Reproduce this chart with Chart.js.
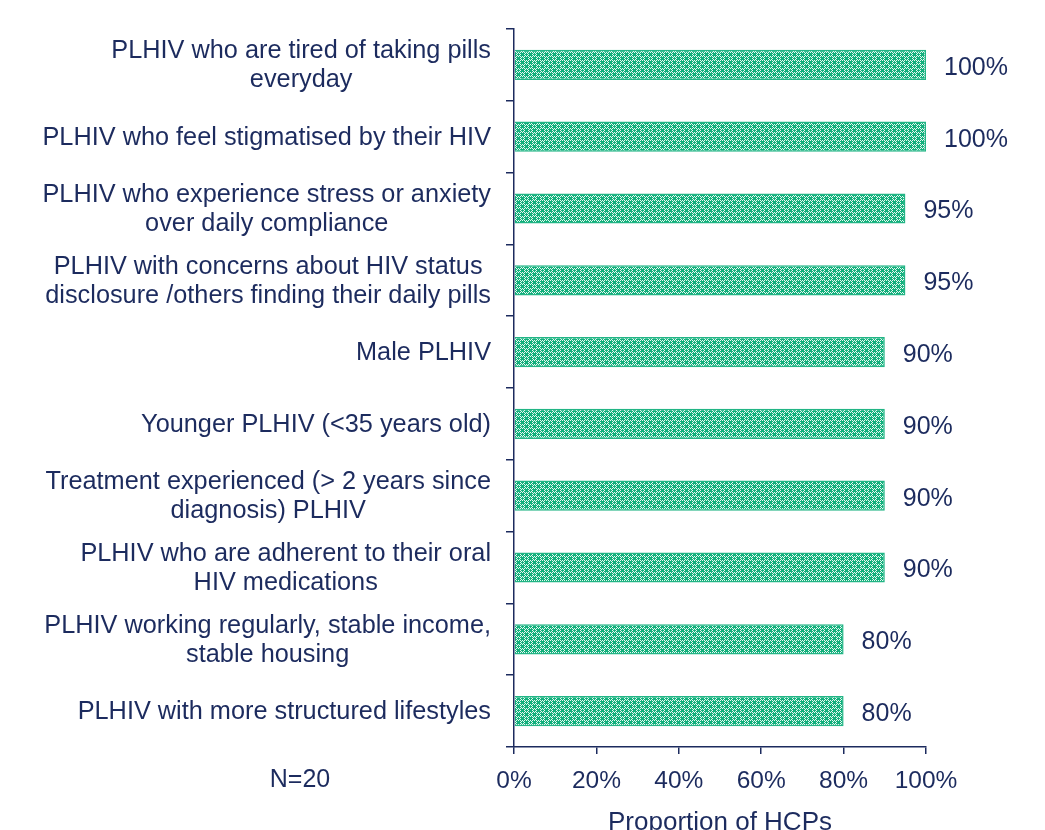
<!DOCTYPE html>
<html>
<head>
<meta charset="utf-8">
<script src="https://cdn.jsdelivr.net/npm/chart.js@4/dist/chart.umd.min.js"></script>
<style>
  html, body { margin: 0; padding: 0; background: #fff; }
  #wrap { width: 1045px; height: 830px; position: relative; }
</style>
</head>
<body>
<div id="wrap"><canvas id="chart"></canvas></div>
<script>
// data
const categories = [
  ["PLHIV who are tired of taking pills", "everyday"],
  ["PLHIV who feel stigmatised by their HIV"],
  ["PLHIV who experience stress or anxiety", "over daily compliance"],
  ["PLHIV with concerns about HIV status", "disclosure /others finding their daily pills"],
  ["Male PLHIV"],
  ["Younger PLHIV (<35 years old)"],
  ["Treatment experienced (> 2 years since", "diagnosis) PLHIV"],
  ["PLHIV who are adherent to their oral", "HIV medications"],
  ["PLHIV working regularly, stable income,", "stable housing"],
  ["PLHIV with more structured lifestyles"]
];
const values = [100, 100, 95, 95, 90, 90, 90, 90, 80, 80];
const xTicks = [0, 20, 40, 60, 80, 100];
const sampleNote = "N=20";
const axisTitle = "Proportion of HCPs";

const navy = "#1c2b5e";
const green = "#12b07c";
const FONT = "'Liberation Sans', Arial, sans-serif";

// dotted green fill like the original hatch
function makePattern() {
  const c = document.createElement("canvas");
  c.width = 8; c.height = 8;
  const g = c.getContext("2d");
  g.fillStyle = green;
  g.fillRect(0, 0, 8, 8);
  g.fillStyle = "#e6f7f0";
  const white = [
    [0,0],[2,0],[4,0],[6,0],[0,4],[2,4],[4,4],[6,4],
    [0,2],[0,6],[4,2],[4,6],
    [1,1],[3,3],[5,5],[7,7],[3,1],[1,3],[5,7],[7,5]
  ];
  white.forEach(([x, y]) => g.fillRect(x, y, 1, 1));
  return g.createPattern(c, "repeat");
}

// category labels: block right-aligned to the axis, lines centred in the block
const categoryLabels = {
  id: "categoryLabels",
  afterDraw(chart) {
    const ctx = chart.ctx;
    const y = chart.scales.y;
    const right = 491, lh = 29;
    ctx.save();
    ctx.font = "25.3px " + FONT;
    ctx.fillStyle = navy;
    ctx.textAlign = "center";
    ctx.textBaseline = "middle";
    categories.forEach((lines, i) => {
      const w = Math.max(...lines.map((t) => ctx.measureText(t).width));
      const cx = right - w / 2;
      const cy = y.getPixelForTick(i);
      const y0 = cy - (lines.length - 1) * lh / 2;
      lines.forEach((t, j) => ctx.fillText(t, cx, y0 + j * lh + 1));
    });
    ctx.restore();
  }
};

const valueLabels = {
  id: "valueLabels",
  afterDatasetsDraw(chart) {
    const ctx = chart.ctx;
    const meta = chart.getDatasetMeta(0);
    ctx.save();
    ctx.font = "25px " + FONT;
    ctx.fillStyle = navy;
    ctx.textBaseline = "middle";
    ctx.textAlign = "left";
    meta.data.forEach((bar, i) => {
      ctx.fillText(values[i] + "%", bar.x + 18, bar.y + 3);
    });
    // sample size note under the category labels
    ctx.textAlign = "center";
    ctx.fillText(sampleNote, 300, 780);
    ctx.restore();
  }
};

const canvas = document.getElementById("chart");
canvas.width = 1045; canvas.height = 830;

new Chart(canvas, {
  type: "bar",
  data: {
    labels: categories,
    datasets: [{
      data: values,
      backgroundColor: makePattern(),
      borderColor: "#22b585",
      borderWidth: 1.5,
      barPercentage: 0.42,
      categoryPercentage: 1.0
    }]
  },
  options: {
    indexAxis: "y",
    responsive: false,
    animation: false,
    layout: { padding: { top: 29, right: 119, left: 0, bottom: 0 } },
    plugins: { legend: { display: false }, tooltip: { enabled: false } },
    scales: {
      x: {
        min: 0, max: 100,
        afterBuildTicks: (s) => { s.ticks = xTicks.map((v) => ({ value: v })); },
        afterFit: (s) => { s.height = 83; },
        grid: { display: true, drawOnChartArea: false, drawTicks: true, tickLength: 7, color: navy, lineWidth: 1.5 },
        border: { display: true, color: navy, width: 1.5 },
        ticks: {
          color: navy, padding: 13,
          font: { family: FONT, size: 24.5 },
          callback: (v) => v + "%"
        },
        title: {
          display: true, text: axisTitle, color: navy,
          font: { family: FONT, size: 26 },
          padding: { top: 0, bottom: -8 }
        }
      },
      y: {
        afterFit: (s) => { s.width = 514; },
        grid: { display: true, drawOnChartArea: false, drawTicks: true, tickLength: 8, color: navy, lineWidth: 1.5, offset: true },
        border: { display: true, color: navy, width: 1.5 },
        ticks: { display: false }
      }
    }
  },
  plugins: [valueLabels, categoryLabels]
});
</script>
</body>
</html>
